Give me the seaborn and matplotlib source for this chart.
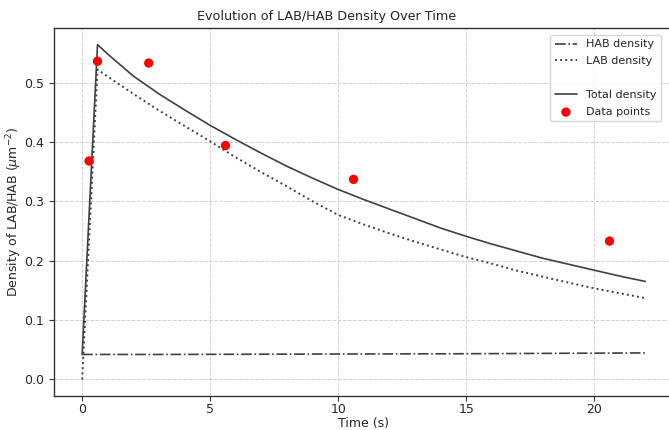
import matplotlib
matplotlib.use("Agg")
import matplotlib.pyplot as plt
from matplotlib.lines import Line2D
import seaborn as sns
import numpy as np
import pandas as pd

# Model curves
time_s = [0, 0.6, 1, 2, 3, 4, 5, 6, 7, 8, 9, 10, 11, 12, 13, 14, 15, 16, 17, 18, 19, 20, 21, 22]
hab_density = [0.042, 0.042, 0.042, 0.042, 0.042, 0.0421, 0.0422, 0.0423, 0.0424, 0.0425, 0.0426,
               0.0427, 0.0428, 0.0429, 0.043, 0.0431, 0.0432, 0.0434, 0.0436, 0.0438, 0.044, 0.0442,
               0.0444, 0.0446]
lab_density = [0.0, 0.522, 0.510, 0.481, 0.453, 0.427, 0.401, 0.374, 0.349, 0.325, 0.300, 0.277,
               0.261, 0.246, 0.232, 0.219, 0.206, 0.195, 0.183, 0.173, 0.163, 0.1535, 0.145, 0.137]
total_density = [0.042, 0.564, 0.548, 0.511, 0.481, 0.454, 0.428, 0.404, 0.381, 0.359, 0.339, 0.320,
                 0.303, 0.287, 0.271, 0.255, 0.241, 0.228, 0.216, 0.204, 0.194, 0.184, 0.174, 0.165]

# Measured points
data_t = [0.27, 0.6, 2.6, 5.6, 10.6, 20.6]
data_y = [0.368, 0.536, 0.533, 0.394, 0.337, 0.233]

curves = pd.DataFrame({"t": time_s, "hab": hab_density, "lab": lab_density, "total": total_density})
points = pd.DataFrame({"t": data_t, "y": data_y})

sns.set_style("white")
plt.rcParams["font.family"] = ["DejaVu Sans"]

fig = plt.figure(figsize=(6.69, 4.30), dpi=100)
ax = fig.add_axes([54 / 669, 1 - 396 / 430, 619.5 / 669, 368 / 430])

line_col = "#404040"
sns.lineplot(data=curves, x="t", y="hab", ax=ax, color=line_col, linestyle="-.", linewidth=1.2,
             label="HAB density")
sns.lineplot(data=curves, x="t", y="lab", ax=ax, color=line_col, linestyle=":", linewidth=1.4,
             label="LAB density")
sns.lineplot(data=curves, x="t", y="total", ax=ax, color=line_col, linestyle="-", linewidth=1.2,
             label="Total density")
sns.scatterplot(data=points, x="t", y="y", ax=ax, color="red", s=45, edgecolor="none",
                label="Data points", zorder=5)

ax.set_xlim(-1.1, 23.1)
ax.set_ylim(-0.028, 0.592)
ax.set_xticks([0, 5, 10, 15, 20])
ax.set_yticks(np.arange(0, 0.51, 0.1))
ax.set_yticklabels([f"{v:.1f}" for v in np.arange(0, 0.51, 0.1)])

ax.grid(True, linestyle="--", linewidth=0.7, color="#d0d0d0")
for side in ["left", "bottom", "top", "right"]:
    ax.spines[side].set_color("#333333")
    ax.spines[side].set_linewidth(1.0)
ax.tick_params(axis="both", labelsize=9, length=3.5, width=0.8, color="#333333",
               left=True, bottom=True, direction="out")
ax.tick_params(axis="x", pad=1.5)

ax.set_xlabel("Time (s)", fontsize=9, labelpad=0.5)
ax.set_ylabel(r"Density of LAB/HAB ($\mu$m$^{-2}$)", fontsize=9)
ax.yaxis.set_label_coords(-0.048, 0.5)
ax.set_title("Evolution of LAB/HAB Density Over Time", fontsize=9.2, x=(327 - 54) / 619.5, pad=6)

handles, labels = ax.get_legend_handles_labels()
blank = Line2D([], [], color="none")
handles = handles[:2] + [blank] + handles[2:]
labels = labels[:2] + [" "] + labels[2:]
leg = ax.legend(handles, labels, loc="upper right", fontsize=8, frameon=True,
                bbox_to_anchor=(0.985, 0.99), borderaxespad=0.3, labelspacing=0.62)
leg.get_frame().set_edgecolor("#cccccc")

fig.savefig("out.png", dpi=100)
